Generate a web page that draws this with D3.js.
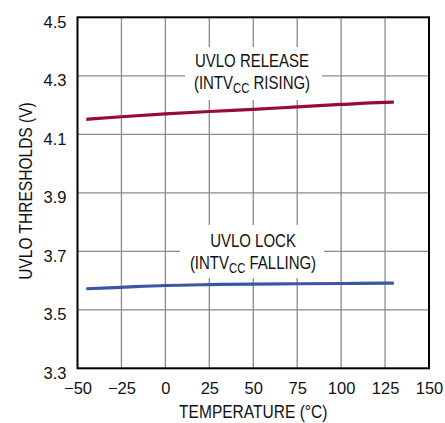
<!DOCTYPE html>
<html><head><meta charset="utf-8">
<script src="https://cdn.jsdelivr.net/npm/d3@7"></script>
<style>body{margin:0;background:#fff}</style>
</head><body>
<svg id="c" width="445" height="423"></svg>
<script>
const xTicks = [-50, -25, 0, 25, 50, 75, 100, 125, 150];
const yTicks = [3.3, 3.5, 3.7, 3.9, 4.1, 4.3, 4.5];
const temps = [-45, -25, 0, 25, 50, 75, 100, 125, 130];
const releaseV = [4.151, 4.160, 4.170, 4.178, 4.185, 4.194, 4.202, 4.209, 4.210];
const lockV = [3.572, 3.577, 3.583, 3.586, 3.588, 3.589, 3.590, 3.591, 3.591];

const svg = d3.select("#c");
const L = 77.5, R = 429, T = 17.3, B = 368.3;
const x = d3.scaleLinear().domain([-50, 150]).range([L, R]);
const y = d3.scaleLinear().domain([3.3, 4.5]).range([B, T]);
const font = "'Liberation Sans', Arial, sans-serif";

// grid
const g = svg.append("g");
g.selectAll(".vg").data(xTicks.slice(1, -1)).enter().append("line")
  .attr("x1", d => x(d)).attr("x2", d => x(d)).attr("y1", T).attr("y2", B)
  .attr("stroke", "#8a8a8a").attr("stroke-width", 1.3);
g.selectAll(".hg").data(yTicks.slice(1, -1)).enter().append("line")
  .attr("y1", d => y(d)).attr("y2", d => y(d)).attr("x1", L).attr("x2", R)
  .attr("stroke", "#8a8a8a").attr("stroke-width", 1.3);

// axes tick labels
const xa = svg.append("g").attr("transform", `translate(0,${B})`)
  .call(d3.axisBottom(x).tickValues(xTicks).tickSize(0).tickPadding(14).tickFormat(d => d < 0 ? "\u2212" + Math.abs(d) : d));
xa.select(".domain").remove();
xa.selectAll("text").attr("font-family", font).attr("font-size", 16.5).attr("fill", "#111");

const ya = svg.append("g").attr("transform", `translate(${L},0)`)
  .call(d3.axisLeft(y).tickValues(yTicks).tickSize(0).tickPadding(11).tickFormat(d3.format(".1f")));
ya.select(".domain").remove();
ya.selectAll("text").attr("font-family", font).attr("font-size", 16.5).attr("fill", "#111").attr("dy", "0.6em");

// series lines
const line = d3.line().x((d, i) => x(temps[i])).y(d => y(d)).curve(d3.curveMonotoneX);
svg.append("path").attr("d", line(releaseV)).attr("fill", "none").attr("stroke", "#990a3c").attr("stroke-width", 3.2);
svg.append("path").attr("d", line(lockV)).attr("fill", "none").attr("stroke", "#3c56a6").attr("stroke-width", 3.2);

// frame
svg.append("rect").attr("x", L).attr("y", T).attr("width", R - L).attr("height", B - T)
  .attr("fill", "none").attr("stroke", "#000").attr("stroke-width", 2);

// condensed text helper
function ctext(cx, cy, str, size, sx, rot) {
  const gg = svg.append("g").attr("transform", `translate(${cx},${cy})${rot ? " rotate(" + rot + ")" : ""} scale(${sx},1)`);
  return gg.append("text").attr("x", 0).attr("y", 0).attr("text-anchor", "middle")
    .attr("font-family", font).attr("font-size", size).attr("fill", "#111").text(str);
}

// annotations
function label(cx, y1, line1, pre, post, box) {
  svg.append("rect").attr("x", box[0]).attr("y", box[1]).attr("width", box[2] - box[0]).attr("height", box[3] - box[1]).attr("fill", "#fff");
  ctext(cx, y1, line1, 18.5, 0.81);
  const t = ctext(cx, y1 + 22, "", 18.5, 0.81);
  t.append("tspan").text(pre);
  t.append("tspan").attr("font-size", 14).attr("dy", 4).text("CC");
  t.append("tspan").attr("dy", -4).text(post);
}
label(252, 67, "UVLO RELEASE", "(INTV", " RISING)", [185, 47, 322, 100]);
label(253, 246.5, "UVLO LOCK", "(INTV", " FALLING)", [180, 225, 324, 278]);

// axis titles
ctext((L + R) / 2, 418, "TEMPERATURE (°C)", 18.5, 0.84);
ctext(31.5, 191, "UVLO THRESHOLDS (V)", 18.5, 0.84, -90);
</script>
</body></html>
